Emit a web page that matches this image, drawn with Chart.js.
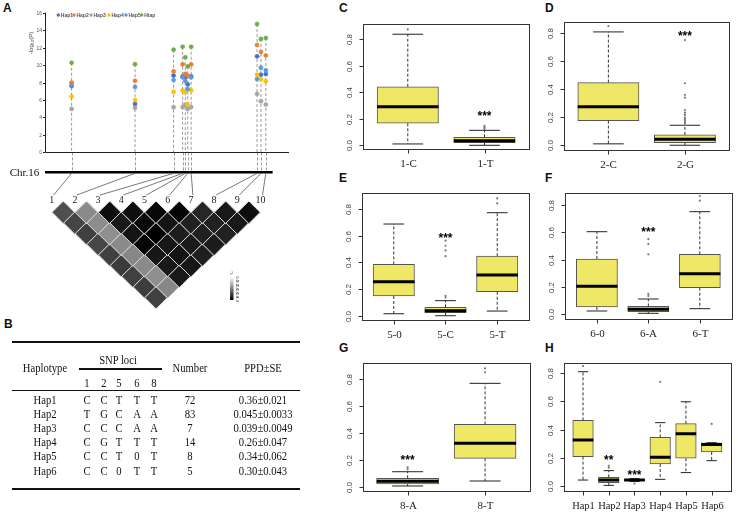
<!DOCTYPE html>
<html>
<head>
<meta charset="utf-8">
<style>
  body { margin: 0; background: #fff; }
  #fig { position: relative; width: 738px; height: 520px; overflow: hidden; font-family: "Liberation Serif", serif; color: #111; }
  #fig canvas { position: absolute; }
  .lbl { position: absolute; font: bold 12px "Liberation Sans", Arial, sans-serif; line-height: 12px; }
  .t { position: absolute; white-space: nowrap; font-size: 12.5px; line-height: 14px; transform: translate(-50%, -50%) scaleX(0.85); }
  .rule { position: absolute; background: #111; }
</style>
</head>
<body>
<div id="fig"></div>
<script src="https://cdn.jsdelivr.net/npm/chart.js"></script>
<script>
// ---------- panel A: association peaks ----------
const snpPos = [10.9, 36.9, 52.7, 56.4, 57.5, 58.5, 59.9, 86.9, 88.5, 90.5];
const hap1 = [7.6, 5.55, 8.8, 8.7, 8.6, 7.78, 8.7, 11.0, 8.9, 8.97];
const hap2 = [8.0, 8.2, 9.27, 10.08, 9.0, 8.8, 10.08, 12.3, 11.5, 11.1];
const hap3 = [4.98, 5.1, 5.17, 5.2, 5.44, 4.98, 5.2, 6.7, 5.86, 5.48];
const hap4 = [6.4, 6.0, 6.93, 7.1, 6.9, 5.5, 7.1, 8.9, 8.4, 8.16];
const hap5 = [7.7, 7.5, 8.28, 8.6, 8.16, 7.24, 8.6, 8.4, 9.7, 9.4];
const htap = [10.27, 10.1, 11.76, 12.1, 10.9, 9.85, 12.1, 14.7, 13.0, 13.1];
const hapLabels = ['Hap1', 'Hap2', 'Hap3', 'Hap4', 'Hap5', 'Htap'];
const aTicks = [0, 2, 4, 6, 8, 10, 12, 14, 16];

// LD r2: row i = SNP i+1 against SNP i+2 .. 10
const ldR2 = [
  [0.69, 0.73, 0.75, 0.72, 0.75, 0.77, 0.75, 0.76, 0.75],
  [0.46, 0.45, 0.44, 0.46, 0.47, 0.46, 0.44, 0.47],
  [0.95, 0.90, 0.92, 0.98, 0.91, 0.90, 0.90],
  [0.94, 0.96, 1.00, 0.91, 0.92, 0.91],
  [0.97, 0.92, 0.89, 0.90, 0.88],
  [0.98, 0.87, 0.87, 0.89],
  [0.85, 0.87, 0.87],
  [0.90, 0.90],
  [0.95]
];
const ldLegend = ['0.0', '0.2', '0.4', '0.6', '0.8', '1.0'];

// ---------- panel B: haplotype table ----------
const snpCols = ['1', '2', '5', '6', '8'];
const tabHaps = ['Hap1', 'Hap2', 'Hap3', 'Hap4', 'Hap5', 'Hap6'];
const tabAlleles = [
  ['C', 'C', 'T', 'T', 'T'],
  ['T', 'G', 'C', 'A', 'A'],
  ['C', 'C', 'C', 'A', 'A'],
  ['C', 'G', 'T', 'T', 'T'],
  ['C', 'C', 'T', '0', 'T'],
  ['C', 'C', '0', 'T', 'T']
];
const tabNumber = [72, 83, 7, 14, 8, 5];
const tabPPD = ['0.36±0.021', '0.045±0.0033', '0.039±0.0049', '0.26±0.047', '0.34±0.062', '0.30±0.043'];

// ---------- panels C-H: box plots, stats = [low whisker, q1, median, q3, high whisker] ----------
const boxTicks = [0, 0.2, 0.4, 0.6, 0.8];

const cCats = ['1-C', '1-T'];
const cStats = [[0.01, 0.166, 0.291, 0.442, 0.838], [0.0, 0.02, 0.035, 0.06, 0.113]];
const cOut = [[0.875], [0.124, 0.135, 0.146]];
const cStars = ['', '***'];
const cStarY = [null, 0.24];

const dCats = ['2-C', '2-G'];
const dStats = [[0.01, 0.176, 0.276, 0.448, 0.81], [0.0, 0.019, 0.043, 0.074, 0.143]];
const dOut = [[0.852], [0.752, 0.443, 0.36, 0.34, 0.252, 0.233, 0.217, 0.198, 0.186, 0.176, 0.164, 0.157]];
const dStars = ['', '***'];
const dStarY = [null, 0.8];

const eCats = ['5-0', '5-C', '5-T'];
const eStats = [[0.015, 0.148, 0.255, 0.385, 0.688], [0.0, 0.023, 0.038, 0.063, 0.113], [0.035, 0.18, 0.305, 0.447, 0.773]];
const eOut = [[], [0.137, 0.15, 0.447, 0.49, 0.525, 0.563], [0.843, 0.88]];
const eStars = ['', '***', ''];
const eStarY = [null, 0.605, null];

const fCats = ['6-0', '6-A', '6-T'];
const fStats = [[0.022, 0.051, 0.203, 0.404, 0.604], [0.005, 0.017, 0.034, 0.056, 0.11], [0.039, 0.193, 0.296, 0.438, 0.751]];
const fOut = [[], [0.132, 0.147, 0.438, 0.514, 0.55], [0.832, 0.866]];
const fStars = ['', '***', ''];
const fStarY = [null, 0.621, null];

const gCats = ['8-A', '8-T'];
const gStats = [[0.005, 0.02, 0.04, 0.062, 0.111], [0.042, 0.21, 0.322, 0.463, 0.768]];
const gOut = [[0.129, 0.144], [0.85, 0.88]];
const gStars = ['***', ''];
const gStarY = [0.218, null];

const hCats = ['Hap1', 'Hap2', 'Hap3', 'Hap4', 'Hap5', 'Hap6'];
const hStats = [
  [0.04, 0.207, 0.325, 0.465, 0.812],
  [0.002, 0.021, 0.04, 0.059, 0.107],
  [0.03, 0.036, 0.04, 0.045, 0.05],
  [0.045, 0.154, 0.202, 0.344, 0.449],
  [0.093, 0.195, 0.37, 0.442, 0.598],
  [0.178, 0.24, 0.294, 0.306, 0.306]
];
const hOut = [[0.852], [0.128, 0.142], [0.015], [0.74], [], [0.44]];
const hStars = ['', '**', '***', '', '', ''];
const hStarY = [null, 0.2, 0.097, null, null, null];

// ---------- setup ----------
Chart.defaults.animation = false;
Chart.defaults.responsive = false;
Chart.defaults.devicePixelRatio = 1;
Chart.defaults.events = [];
Chart.defaults.layout.autoPadding = false;
Chart.defaults.plugins.legend.display = false;
Chart.defaults.plugins.tooltip.enabled = false;
Chart.defaults.font.family = '"Liberation Sans", Arial, sans-serif';

const fig = document.getElementById('fig');

function addCanvas(x, y, w, h) {
  const c = document.createElement('canvas');
  c.width = w; c.height = h;
  c.style.left = x + 'px'; c.style.top = y + 'px';
  c.style.width = w + 'px'; c.style.height = h + 'px';
  fig.appendChild(c);
  return c;
}

function addDiv(cls, text, x, y) {
  const d = document.createElement('div');
  d.className = cls;
  d.textContent = text;
  d.style.left = x + 'px'; d.style.top = y + 'px';
  fig.appendChild(d);
  return d;
}

function rule(x1, x2, y, h) {
  const d = document.createElement('div');
  d.className = 'rule';
  d.style.left = x1 + 'px'; d.style.top = (y - h / 2) + 'px';
  d.style.width = (x2 - x1) + 'px'; d.style.height = h + 'px';
  fig.appendChild(d);
}

// panel letters
[['A', 3, 2.4], ['B', 4, 318.4], ['C', 339, 2.4], ['D', 545, 2.4],
 ['E', 339, 172.4], ['F', 545, 172.4], ['G', 339, 342.4], ['H', 545, 342.4]]
  .forEach(([s, x, y]) => addDiv('lbl', s, x, y));

// ---------- panel A top: points + stems ----------
const hapColors = ['#4472C4', '#ED7D31', '#A5A5A5', '#FFC000', '#5B9BD5', '#70AD47'];
const hapSeries = [hap1, hap2, hap3, hap4, hap5, htap];
const chrY = 172.3;
const legX = [58.3, 74, 91, 109, 126, 141.7];

const stems = snpPos.flatMap((p, k) => [{x: p, y: htap[k]}, {x: p, y: 0}, {x: p, y: null}]);

const cvA = addCanvas(0, 0, 300, 320);
const chartA = new Chart(cvA, {
  type: 'scatter',
  data: {
    datasets: [
      ...hapSeries.map((s, h) => ({
        label: hapLabels[h],
        data: s.map((v, k) => ({x: snpPos[k], y: v})),
        pointRadius: 2.1,
        backgroundColor: hapColors[h],
        borderColor: hapColors[h],
        borderWidth: 0.5
      })).reverse(),
      {type: 'line', data: stems, borderColor: '#9a9a9a', borderWidth: 1, borderDash: [3, 2], pointRadius: 0, spanGaps: false}
    ]
  },
  options: {
    layout: {padding: {left: 45, top: 12.7, right: 11, bottom: 320 - 152.4}},
    scales: {
      x: {type: 'linear', min: 0, max: 100, display: false},
      y: {min: 0, max: 16, display: false}
    }
  },
  plugins: [{
    id: 'panelA',
    afterDraw(ch) {
      const {ctx, chartArea: a, scales: {x, y}} = ch;
      ctx.save();
      // stems below the axis down to the chromosome
      ctx.strokeStyle = '#9a9a9a'; ctx.lineWidth = 1; ctx.setLineDash([3, 2]);
      snpPos.forEach(p => {
        const px = Math.round(x.getPixelForValue(p)) + 0.5;
        ctx.beginPath(); ctx.moveTo(px, a.bottom); ctx.lineTo(px, chrY); ctx.stroke();
      });
      ctx.setLineDash([]);
      // axes
      ctx.strokeStyle = '#222';
      ctx.beginPath();
      ctx.moveTo(a.left + 0.5, a.top); ctx.lineTo(a.left + 0.5, Math.round(a.bottom) + 0.5);
      ctx.lineTo(a.right, Math.round(a.bottom) + 0.5);
      ctx.stroke();
      ctx.font = '5px "Liberation Sans"'; ctx.fillStyle = '#555';
      ctx.textAlign = 'right'; ctx.textBaseline = 'middle';
      aTicks.forEach(v => {
        const py = Math.round(y.getPixelForValue(v)) + 0.5;
        ctx.beginPath(); ctx.moveTo(a.left - 2, py); ctx.lineTo(a.left, py); ctx.stroke();
        ctx.fillText(String(v), a.left - 3, py);
      });
      // y title -log10(P)
      ctx.save();
      ctx.translate(31, 43); ctx.rotate(-Math.PI / 2);
      ctx.textAlign = 'left'; ctx.textBaseline = 'middle'; ctx.fillStyle = '#444';
      ctx.font = '6px "Liberation Sans"';
      const w1 = ctx.measureText('-log').width, w3 = ctx.measureText('(P)').width;
      ctx.font = '4px "Liberation Sans"';
      const w2 = ctx.measureText('10').width;
      let sx = -(w1 + w2 + w3) / 2;
      ctx.font = '6px "Liberation Sans"'; ctx.fillText('-log', sx, 0); sx += w1;
      ctx.font = '4px "Liberation Sans"'; ctx.fillText('10', sx, 1.5); sx += w2;
      ctx.font = '6px "Liberation Sans"'; ctx.fillText('(P)', sx, 0);
      ctx.restore();
      // legend
      ctx.textAlign = 'left'; ctx.textBaseline = 'middle';
      ctx.font = 'bold 5px "Liberation Sans"';
      hapLabels.forEach((lab, h) => {
        ctx.fillStyle = hapColors[h];
        ctx.beginPath(); ctx.arc(legX[h], 15, 1.7, 0, Math.PI * 2); ctx.fill();
        ctx.fillStyle = '#555';
        ctx.fillText(lab, legX[h] + 2.5, 15.2);
      });
      // chromosome
      ctx.strokeStyle = '#000'; ctx.lineWidth = 2.5;
      ctx.beginPath(); ctx.moveTo(x.getPixelForValue(0), chrY); ctx.lineTo(x.getPixelForValue(93.3), chrY); ctx.stroke();
      ctx.fillStyle = '#111'; ctx.font = '11px "Liberation Serif"';
      ctx.textAlign = 'center';
      ctx.fillText('Chr.16', 24.5, chrY + 0.5);
      ctx.restore();
    }
  }]
});

// ---------- panel A bottom: LD heatmap ----------
const ldPts = [];
ldR2.forEach((row, i) => row.forEach((r, k) => {
  const a = i + 1, b = i + 2 + k;
  ldPts.push({x: (a + b) / 2, y: b - a, r2: r});
}));

const cvLD = addCanvas(0, 0, 300, 320);
new Chart(cvLD, {
  type: 'scatter',
  data: {
    datasets: [{
      data: ldPts,
      pointStyle: 'rectRot',
      pointRadius: 11.3,
      backgroundColor: c => { const g = Math.round(255 * (1 - c.raw.r2)); return `rgb(${g},${g},${g})`; },
      borderColor: '#dcdcdc',
      borderWidth: 1
    }]
  },
  options: {
    layout: {padding: {left: 40.1, right: 16.3, top: 201.7, bottom: 11.7}},
    scales: {
      x: {type: 'linear', min: 0.5, max: 11, display: false},
      y: {min: 0, max: 10, reverse: true, display: false}
    }
  },
  plugins: [{
    id: 'ldDecor',
    afterDraw(ch) {
      const {ctx, scales: {x}} = ch;
      const tx = chartA.scales.x;
      ctx.save();
      ctx.strokeStyle = '#555'; ctx.lineWidth = 0.8;
      snpPos.forEach((p, k) => {
        ctx.beginPath();
        ctx.moveTo(tx.getPixelForValue(p), chrY + 1);
        ctx.lineTo(x.getPixelForValue(k + 1) + 2, 195);
        ctx.stroke();
      });
      ctx.fillStyle = '#222'; ctx.font = '10px "Liberation Serif"';
      ctx.textAlign = 'center'; ctx.textBaseline = 'middle';
      snpPos.forEach((p, k) => ctx.fillText(String(k + 1), x.getPixelForValue(k + 1), 200));
      // r2 colour key
      const g = ctx.createLinearGradient(0, 277, 0, 300);
      g.addColorStop(0, '#ffffff'); g.addColorStop(1, '#000000');
      ctx.fillStyle = g; ctx.fillRect(230, 277, 3.5, 23);
      ctx.fillStyle = '#333'; ctx.font = '4px "Liberation Sans"';
      ctx.fillText('r²', 231.5, 273.5);
      ldLegend.forEach((s, k) => {
        ctx.save();
        ctx.translate(237.5, 279 + k * 4.1); ctx.rotate(Math.PI / 2);
        ctx.fillText(s, 0, 0);
        ctx.restore();
      });
      ctx.restore();
    }
  }]
});

// ---------- panel B: table ----------
const colX = [87.3, 103.7, 119.3, 137, 154];
rule(12, 300, 342, 1.5);
addDiv('t', 'Haplotype', 45, 368.3);
addDiv('t', 'SNP loci', 118.3, 360);
rule(79, 161.7, 369, 1.3);
snpCols.forEach((s, k) => addDiv('t', s, colX[k], 382.7));
addDiv('t', 'Number', 190, 368.3);
addDiv('t', 'PPD±SE', 263.3, 368.3);
rule(12, 300, 390.6, 1.2);
tabHaps.forEach((h, r) => {
  const yy = 400 + r * 14.1;
  addDiv('t', h, 45, yy);
  tabAlleles[r].forEach((al, k) => addDiv('t', al, colX[k], yy));
  addDiv('t', String(tabNumber[r]), 190, yy);
  addDiv('t', tabPPD[r], 263.3, yy);
});
rule(12, 300, 488.6, 2);

// ---------- box plots ----------
function rAxes(cats, stars, starY, catFont) {
  return {
    id: 'rAxes',
    afterDraw(ch) {
      const {ctx, chartArea: a, scales: {x, y}} = ch;
      ctx.save();
      ctx.strokeStyle = '#333'; ctx.lineWidth = 1;
      const L = Math.round(a.left) + 0.5, T = Math.round(a.top) + 0.5;
      const R = Math.round(a.right) + 0.5, B = Math.round(a.bottom) + 0.5;
      ctx.strokeRect(L, T, R - L, B - T);
      ctx.fillStyle = '#444'; ctx.font = '8px "Liberation Sans"';
      ctx.textAlign = 'center'; ctx.textBaseline = 'middle';
      boxTicks.forEach(v => {
        const py = Math.round(y.getPixelForValue(v)) + 0.5;
        ctx.beginPath(); ctx.moveTo(L - 4, py); ctx.lineTo(L, py); ctx.stroke();
        ctx.save(); ctx.translate(L - 13.5, py); ctx.rotate(-Math.PI / 2);
        ctx.fillText(v.toFixed(1), 0, 0);
        ctx.restore();
      });
      ctx.fillStyle = '#222'; ctx.font = catFont;
      cats.forEach((c, i) => {
        const px = Math.round(x.getPixelForValue(i + 1)) + 0.5;
        ctx.beginPath(); ctx.moveTo(px, B); ctx.lineTo(px, B + 4); ctx.stroke();
        ctx.fillText(c, px, B + 14.5);
      });
      ctx.fillStyle = '#000'; ctx.font = 'bold 12px "Liberation Sans"';
      ctx.textBaseline = 'alphabetic';
      stars.forEach((s, i) => {
        if (s) ctx.fillText(s, x.getPixelForValue(i + 1), y.getPixelForValue(starY[i]) + 6.5);
      });
      ctx.restore();
    }
  };
}

function boxPanel(cats, stats, outs, stars, starY, fr, yMin, yMax, catFont) {
  const n = cats.length;
  const cx = Math.floor(fr.l) - 40, cy = Math.floor(fr.t) - 8;
  const cw = Math.ceil(fr.r) + 8 - cx, chh = Math.ceil(fr.b) + 26 - cy;
  const cv = addCanvas(cx, cy, cw, chh);
  const unit = (fr.r - fr.l) / (1.08 * n);
  const whisk = stats.flatMap((s, i) => [
    {x: i + 1, y: s[3]}, {x: i + 1, y: s[4]}, {x: i + 1, y: null},
    {x: i + 1, y: s[1]}, {x: i + 1, y: s[0]}, {x: i + 1, y: null}
  ]);
  const caps = stats.flatMap((s, i) => [{x: i + 1, y: s[0]}, {x: i + 1, y: s[4]}]);
  const outPts = outs.flatMap((o, i) => o.map(v => ({x: i + 1, y: v})));
  new Chart(cv, {
    type: 'bar',
    data: {
      datasets: [
        {type: 'scatter', data: stats.map((s, i) => ({x: i + 1, y: s[2]})), pointStyle: 'line',
         pointRadius: 0.4 * unit, pointBorderColor: '#000', pointBorderWidth: 3},
        {type: 'scatter', data: caps, pointStyle: 'line', pointRadius: 0.2 * unit,
         pointBorderColor: '#222', pointBorderWidth: 1},
        {type: 'scatter', data: outPts, pointRadius: 1.1, pointBackgroundColor: '#777',
         pointBorderColor: '#777', pointBorderWidth: 0},
        {type: 'line', data: whisk, borderColor: '#333', borderWidth: 1, borderDash: [3, 2],
         pointRadius: 0, spanGaps: false},
        {data: stats.map((s, i) => ({x: i + 1, y: [s[1], s[3]]})), backgroundColor: '#EFE766',
         borderColor: '#555', borderWidth: 1, borderSkipped: false, barThickness: 0.8 * unit}
      ]
    },
    options: {
      layout: {padding: {left: fr.l - cx, top: fr.t - cy, right: cx + cw - fr.r, bottom: cy + chh - fr.b}},
      scales: {
        x: {type: 'linear', min: 0.5 - 0.04 * n, max: n + 0.5 + 0.04 * n, display: false, offset: false},
        y: {min: yMin, max: yMax, display: false}
      }
    },
    plugins: [rAxes(cats, stars, starY, catFont)]
  });
}

const serif11 = '11px "Liberation Serif"';
boxPanel(cCats, cStats, cOut, cStars, cStarY, {l: 363.3, t: 24.3, r: 529, b: 149}, -0.028, 0.913, serif11);
boxPanel(dCats, dStats, dOut, dStars, dStarY, {l: 564, t: 21.7, r: 729.3, b: 150}, -0.034, 0.883, serif11);
boxPanel(eCats, eStats, eOut, eStars, eStarY, {l: 361.7, t: 192.7, r: 529.3, b: 320}, -0.032, 0.923, serif11);
boxPanel(fCats, fStats, fOut, fStars, fStarY, {l: 565, t: 193.3, r: 731.7, b: 319.3}, -0.039, 0.886, serif11);
boxPanel(gCats, gStats, gOut, gStars, gStarY, {l: 362.7, t: 363.3, r: 530, b: 490.7}, -0.03, 0.917, serif11);
boxPanel(hCats, hStats, hOut, hStars, hStarY, {l: 564, t: 363.3, r: 730.7, b: 490.7}, -0.036, 0.872, '10.5px "Liberation Serif"');
</script>
</body>
</html>
